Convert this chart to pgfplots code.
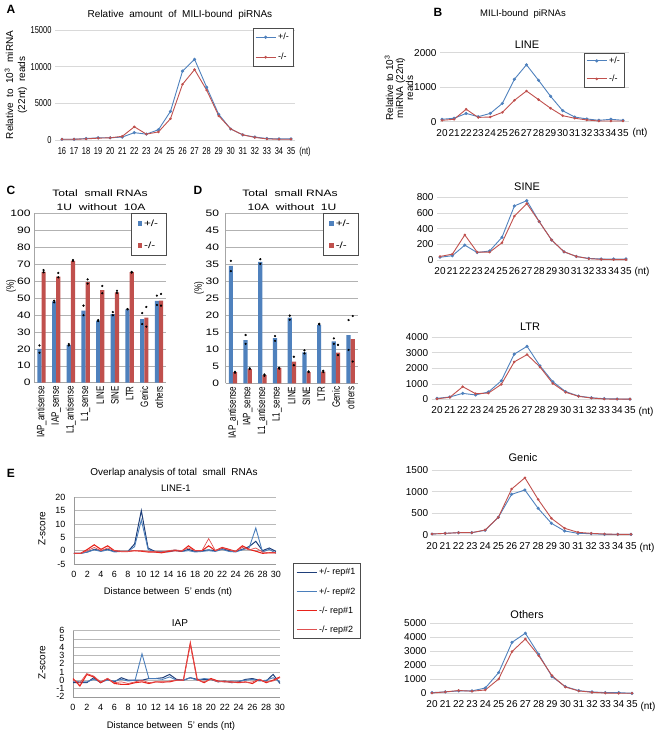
\documentclass[border=0pt]{standalone}
\usepackage{pgfplots}
\pgfplotsset{compat=1.18}
\usepackage{fontspec}
\setmainfont{Liberation Sans}
\newfontfamily\fA{Liberation Sans}[FakeStretch=0.75]
\newfontfamily\fCn{Liberation Sans}[FakeStretch=1.3]
\newfontfamily\fCr{Liberation Sans}[FakeStretch=0.75]
\definecolor{cb}{HTML}{4F81BD}
\definecolor{cr}{HTML}{C0504D}
\definecolor{eA}{HTML}{1F3F7A}
\definecolor{eB}{HTML}{4A7EBB}
\definecolor{eC}{HTML}{E8221A}
\definecolor{eD}{HTML}{E05050}
\definecolor{gridc}{HTML}{D9D9D9}
\pgfplotsset{
  base/.style={scale only axis, clip=false, anchor=south west,
    /pgf/number format/assume math mode=true, /pgf/number format/1000 sep={},
    scaled y ticks=false, major tick length=0pt},
  linechart/.style={base, axis x line*=bottom, axis y line*=left,
    x axis line style={gridc}, y axis line style={draw=none},
    ymajorgrids, grid style={gridc}, xtick={20,...,35},
    tick label style={font=\fontsize{10}{10}\selectfont},
    xticklabel style={yshift=-4pt}},
  pb/.style={cb, line width=0.9pt, mark=*, mark size=1.1pt},
  pr/.style={cr, line width=0.9pt, mark=*, mark size=0.8pt},
  barchart/.style={base, axis x line*=bottom, axis y line*=left,
    axis line style={gray!70}, ymajorgrids, grid style={gray!60},
    xmin=-0.5, xmax=8.5, xtick={0,...,8},
    xticklabels={IAP\_antisense, IAP\_sense, L1\_antisense, L1\_sense, LINE, SINE, LTR, Genic, others},
    xticklabel style={rotate=90, anchor=east, font=\fCr\fontsize{10.7}{10.7}\selectfont},
    yticklabel style={font=\fCn\fontsize{9.3}{9.3}\selectfont},
    legend style={at={(1,1)}, anchor=north east, draw=black!70, fill=white,
      font=\fCn\fontsize{9}{9}\selectfont, inner xsep=6pt, inner ysep=4pt, row sep=10pt},
    legend cell align=left},
  echart/.style={base, axis x line*=bottom, axis y line*=left,
    axis line style={gray!80}, ymajorgrids, grid style={gray!55},
    xmin=0, xmax=30, xtick={0,2,...,30},
    tick label style={font=\fontsize{9}{9}\selectfont},
    xticklabel style={yshift=-4pt}, yticklabel style={xshift=-5pt}},
}
\begin{document}
\begin{tikzpicture}
\useasboundingbox (0pt,0pt) rectangle (657pt,732pt);

% ---------- A ----------
\begin{axis}[linechart, at={(55pt,592pt)}, width=240pt, height=110pt,
  xmin=15.42, xmax=35.33, ymin=0, ymax=15000, xtick={16,...,35}, ytick={0,5000,10000,15000},
  tick label style={font=\fA\fontsize{10}{10}\selectfont},
  legend style={at={(0.992,1.018)}, anchor=north east, draw=black!70, fill=white,
    font=\fontsize{9}{9}\selectfont, inner xsep=2pt, inner ysep=3pt, row sep=8pt},
  legend cell align=left]
\addplot[pb, legend image code/.code={\draw[cb, line width=0.9pt] (0pt,0pt) -- (20pt,0pt); \fill[cb] (10pt,0pt) circle (1.1pt);}] coordinates {(16,100)(17,100)(18,200)(19,300)(20,300)(21,400)(22,1000)(23,800)(24,1400)(25,3900)(26,9400)(27,11000)(28,7200)(29,3500)(30,1500)(31,700)(32,400)(33,200)(34,150)(35,150)};
\addlegendentry{+/-}
\addplot[pr, legend image code/.code={\draw[cr, line width=0.9pt] (0pt,0pt) -- (20pt,0pt); \fill[cr] (10pt,0pt) circle (0.9pt);}] coordinates {(16,100)(17,100)(18,150)(19,250)(20,300)(21,500)(22,1800)(23,800)(24,1100)(25,2900)(26,7600)(27,9600)(28,6800)(29,3300)(30,1500)(31,700)(32,350)(33,150)(34,100)(35,100)};
\addlegendentry{-/-}
\end{axis}

% ---------- B LINE ----------
\begin{axis}[linechart, at={(440pt,610.3pt)}, width=189pt, height=69pt,
  xmin=19.834, xmax=35.497, ymin=0, ymax=2000, ytick={0,1000,2000},
  legend style={at={(0.974,1)}, anchor=north east, draw=black!70, fill=white,
    font=\fontsize{9}{9}\selectfont, inner xsep=2pt, inner ysep=2pt, row sep=6pt},
  legend cell align=left]
\addplot[pb, legend image code/.code={\draw[cb, line width=0.9pt] (0pt,0pt) -- (20pt,0pt); \fill[cb] (10pt,0pt) circle (1.1pt);}] coordinates {(20,70)(21,100)(22,240)(23,145)(24,240)(25,530)(26,1230)(27,1650)(28,1200)(29,735)(30,320)(31,135)(32,80)(33,40)(34,70)(35,40)};
\addlegendentry{+/-}
\addplot[pr, legend image code/.code={\draw[cr, line width=0.9pt] (0pt,0pt) -- (20pt,0pt); \fill[cr] (10pt,0pt) circle (0.8pt);}] coordinates {(20,40)(21,70)(22,360)(23,125)(24,135)(25,270)(26,620)(27,890)(28,640)(29,390)(30,175)(31,100)(32,50)(33,20)(34,20)(35,20)};
\addlegendentry{-/-}
\end{axis}

% ---------- B SINE ----------
\begin{axis}[linechart, at={(437pt,472pt)}, width=191pt, height=62.7pt,
  xmin=19.758, xmax=35.161, ymin=0, ymax=800, ytick={0,200,...,800}]
\addplot[pb] coordinates {(20,35)(21,55)(22,190)(23,95)(24,115)(25,290)(26,690)(27,757)(28,490)(29,255)(30,105)(31,45)(32,20)(33,13)(34,13)(35,13)};
\addplot[pr] coordinates {(20,45)(21,75)(22,320)(23,100)(24,100)(25,220)(26,560)(27,720)(28,490)(29,255)(30,105)(31,45)(32,17)(33,8)(34,5)(35,5)};
\end{axis}

% ---------- B LTR ----------
\begin{axis}[linechart, at={(431.7pt,332.7pt)}, width=200pt, height=62.3pt,
  xmin=19.588, xmax=35.132, ymin=0, ymax=4000, ytick={0,1000,...,4000}]
\addplot[pb] coordinates {(20,60)(21,150)(22,380)(23,280)(24,470)(25,1190)(26,2900)(27,3400)(28,2150)(29,1130)(30,490)(31,210)(32,100)(33,40)(34,20)(35,10)};
\addplot[pr] coordinates {(20,30)(21,130)(22,810)(23,360)(24,400)(25,960)(26,2400)(27,2870)(28,2080)(29,1020)(30,450)(31,190)(32,80)(33,20)(34,10)(35,10)};
\end{axis}

% ---------- B Genic ----------
\begin{axis}[linechart, at={(431.7pt,197pt)}, width=200pt, height=65pt,
  xmin=19.977, xmax=35.05, ymin=0, ymax=1500, ytick={0,500,1000,1500}]
\addplot[pb] coordinates {(20,23)(21,38)(22,54)(23,54)(24,108)(25,408)(26,938)(27,1038)(28,615)(29,270)(30,92)(31,38)(32,30)(33,15)(34,15)(35,15)};
\addplot[pr] coordinates {(20,23)(21,38)(22,54)(23,54)(24,115)(25,408)(26,1060)(27,1320)(28,820)(29,385)(30,154)(31,62)(32,38)(33,23)(34,15)(35,15)};
\end{axis}

% ---------- B Others ----------
\begin{axis}[linechart, at={(430pt,38.7pt)}, width=203pt, height=70pt,
  xmin=19.85, xmax=35.075, ymin=0, ymax=5000, ytick={0,1000,...,5000}]
\addplot[pb] coordinates {(20,50)(21,100)(22,170)(23,170)(24,380)(25,1480)(26,3640)(27,4290)(28,2790)(29,1190)(30,480)(31,190)(32,100)(33,50)(34,50)(35,0)};
\addplot[pr] coordinates {(20,20)(21,100)(22,200)(23,150)(24,240)(25,1020)(26,2980)(27,3880)(28,2690)(29,1260)(30,450)(31,170)(32,70)(33,20)(34,0)(35,0)};
\end{axis}

% ---------- C ----------
\begin{axis}[barchart, at={(34.2pt,349.3pt)}, width=132.1pt, height=169.4pt,
  ymin=0, ymax=100, ytick={0,10,...,100}]
\addplot[ybar, bar width=4.2pt, bar shift=-2.1pt, fill=cb, draw=none,
  legend image code/.code={\fill[cb] (0pt,-2.2pt) rectangle (4.5pt,2.2pt);}]
  coordinates {(0,20)(1,48)(2,22.4)(3,42.5)(4,36.6)(5,40.5)(6,43.3)(7,37.6)(8,48.3)};
\addlegendentry{+/-}
\addplot[ybar, bar width=4.2pt, bar shift=2.1pt, fill=cr, draw=none,
  legend image code/.code={\fill[cr] (0pt,-2.2pt) rectangle (4.5pt,2.2pt);}]
  coordinates {(0,65.4)(1,62.6)(2,71.9)(3,59.4)(4,54.7)(5,53.3)(6,65.2)(7,38.4)(8,48.4)};
\addlegendentry{-/-}
\addplot[only marks, mark=*, mark size=0.9pt, black, forget plot] coordinates {
(-0.14,22)(-0.14,17.7)(0.86,48.4)(0.86,47.4)(1.86,22.8)(1.86,22)(2.86,45.5)(2.86,39.8)(3.86,37)(3.86,36.4)(4.86,41.7)(4.86,39.8)(5.86,43.5)(5.86,43.3)(6.86,41.1)(6.86,34.6)(7.86,51.4)(7.86,45.9)};
\addplot[only marks, mark=*, mark size=0.9pt, black, forget plot] coordinates {
(0.14,66.5)(0.14,65.2)(1.14,64.8)(1.14,62.2)(2.14,72.4)(2.14,71.9)(3.14,61)(3.14,58.5)(4.14,57.1)(4.14,52.8)(5.14,54.3)(5.14,53)(6.14,65.4)(6.14,65)(7.14,44.7)(7.14,33.1)(8.14,52.4)(8.14,45.5)};
\end{axis}

% ---------- D ----------
\begin{axis}[barchart, at={(225.6pt,348.7pt)}, width=132.4pt, height=170pt,
  ymin=0, ymax=50, ytick={0,5,...,50}, yticklabel style={xshift=-3pt}]
\addplot[ybar, bar width=4.2pt, bar shift=-2.1pt, fill=cb, draw=none,
  legend image code/.code={\fill[cb] (0pt,-2.2pt) rectangle (4.5pt,2.2pt);}]
  coordinates {(0,34.5)(1,12.7)(2,35.7)(3,13.3)(4,19.3)(5,9.1)(6,17.2)(7,12.3)(8,14.2)};
\addlegendentry{+/-}
\addplot[ybar, bar width=4.2pt, bar shift=2.1pt, fill=cr, draw=none,
  legend image code/.code={\fill[cr] (0pt,-2.2pt) rectangle (4.5pt,2.2pt);}]
  coordinates {(0,3.3)(1,4.2)(2,2.4)(3,4.5)(4,6.4)(5,3.3)(6,3.4)(7,9.0)(8,13.0)};
\addlegendentry{-/-}
\addplot[only marks, mark=*, mark size=0.9pt, black, forget plot] coordinates {
(-0.14,36)(-0.14,33)(0.86,14.2)(0.86,11.6)(1.86,36.5)(1.86,35.1)(2.86,13.9)(2.86,12.5)(3.86,19.9)(3.86,18.7)(4.86,9.7)(4.86,8.8)(5.86,17.5)(5.86,17.3)(6.86,13.2)(6.86,11.6)(7.86,18.6)(7.86,9.8)};
\addplot[only marks, mark=*, mark size=0.9pt, black, forget plot] coordinates {
(0.14,3.4)(0.14,3.1)(1.14,4.4)(1.14,4.2)(2.14,2.6)(2.14,2.2)(3.14,4.6)(3.14,4.3)(4.14,7.8)(4.14,5.3)(5.14,3.5)(5.14,3.3)(6.14,3.7)(6.14,3.3)(7.14,11.3)(7.14,8.3)(8.14,19.8)(8.14,6.4)};
\end{axis}

% ---------- E LINE-1 ----------
\begin{axis}[echart, at={(74pt,168pt)}, width=202pt, height=66.7pt,
  ymin=-5, ymax=20, ytick={-5,0,...,20},
  legend style={at={(1.083,0.011)}, anchor=north west, draw=black!70, fill=white,
    font=\fontsize{9}{9}\selectfont, inner xsep=3pt, inner ysep=3pt, row sep=7pt},
  legend cell align=left,
  legend image code/.code={\draw[#1] (0pt,0pt) -- (20pt,0pt);}]
\addplot[eA, line width=1pt] coordinates {(0,-1)(1,-1)(2,-0.5)(3,0.5)(4,0)(5,0.5)(6,-0.3)(7,-0.3)(8,-0.3)(9,2.5)(10,15)(11,1)(12,-0.3)(13,-0.5)(14,-0.3)(15,0.2)(16,-0.3)(17,0.5)(18,-0.3)(19,0)(20,0.3)(21,0)(22,0.8)(23,0)(24,-0.3)(25,0.5)(26,1.5)(27,3.5)(28,0)(29,1)(30,-0.3)};
\addlegendentry{+/- rep\#1}
\addplot[eB, line width=0.9pt] coordinates {(0,-1)(1,-1)(2,-0.5)(3,0.3)(4,-0.3)(5,0.3)(6,-0.5)(7,-0.3)(8,-0.3)(9,1.5)(10,11.5)(11,0.5)(12,-0.5)(13,-0.3)(14,-0.5)(15,0)(16,-0.3)(17,0)(18,-0.5)(19,-0.3)(20,0)(21,-0.3)(22,0.5)(23,-0.3)(24,-0.5)(25,0.3)(26,1)(27,8.5)(28,-0.5)(29,0.5)(30,-1)};
\addlegendentry{+/- rep\#2}
\addplot[eC, line width=1.1pt] coordinates {(0,-1)(1,-1)(2,0.5)(3,2.2)(4,0.5)(5,1.8)(6,0)(7,-0.3)(8,-0.3)(9,0)(10,-0.2)(11,-0.5)(12,-0.5)(13,-0.8)(14,-0.3)(15,0)(16,-0.2)(17,1.8)(18,0)(19,0)(20,1.8)(21,0)(22,1.2)(23,0.5)(24,-0.3)(25,1.8)(26,0.5)(27,-0.2)(28,-1)(29,-0.8)(30,-0.8)};
\addlegendentry{-/- rep\#1}
\addplot[eD, line width=0.7pt] coordinates {(0,-1)(1,-1)(2,0)(3,1.2)(4,0)(5,1)(6,0)(7,-0.3)(8,-0.3)(9,0)(10,0)(11,-0.3)(12,-0.3)(13,-0.5)(14,0)(15,0.3)(16,0)(17,1)(18,0)(19,0)(20,4.5)(21,0)(22,1)(23,0.3)(24,-0.3)(25,1.2)(26,0.3)(27,1)(28,-0.5)(29,-0.8)(30,-0.8)};
\addlegendentry{-/- rep\#2}
\end{axis}

% ---------- E IAP ----------
\begin{axis}[echart, at={(73pt,35.3pt)}, width=207pt, height=66pt,
  ymin=-2, ymax=6, ytick={-2,-1,...,6}]
\addplot[eA, line width=1pt] coordinates {(0,-0.3)(1,-0.3)(2,-0.3)(3,0.3)(4,-0.3)(5,0.1)(6,-0.2)(7,0.3)(8,0)(9,0)(10,0)(11,0.2)(12,0.2)(13,0.3)(14,0.7)(15,0.1)(16,0)(17,0.3)(18,0.1)(19,0.1)(20,0.1)(21,-0.2)(22,-0.1)(23,-0.3)(24,-0.2)(25,0.1)(26,0.2)(27,0)(28,-0.1)(29,0.7)(30,-0.4)};
\addplot[eB, line width=0.9pt] coordinates {(0,-0.1)(1,-0.2)(2,-0.2)(3,0.1)(4,-0.2)(5,0)(6,-0.1)(7,0.1)(8,-0.1)(9,0)(10,3.2)(11,0.2)(12,0.2)(13,0.1)(14,0.4)(15,0)(16,0)(17,0.3)(18,0)(19,0.2)(20,0.1)(21,-0.1)(22,-0.2)(23,-0.1)(24,-0.1)(25,0)(26,0.1)(27,-0.1)(28,0)(29,0.3)(30,-0.2)};
\addplot[eC, line width=1.1pt] coordinates {(0,0.2)(1,-0.7)(2,0.7)(3,0.4)(4,-0.3)(5,0.2)(6,-0.4)(7,-0.5)(8,-0.5)(9,-0.3)(10,-0.2)(11,-0.4)(12,-0.2)(13,-0.2)(14,-0.2)(15,0)(16,0)(17,4.5)(18,0.1)(19,-0.3)(20,0.2)(21,-0.1)(22,-0.2)(23,-0.2)(24,-0.3)(25,-0.2)(26,-0.4)(27,0.1)(28,-0.3)(29,0)(30,0.4)};
\addplot[eD, line width=0.7pt] coordinates {(0,0)(1,-0.3)(2,0.8)(3,0.5)(4,-0.2)(5,0.2)(6,-0.3)(7,-0.2)(8,-0.4)(9,-0.2)(10,0)(11,-0.3)(12,-0.2)(13,-0.3)(14,-0.1)(15,0)(16,0)(17,4.3)(18,0)(19,-0.2)(20,0.1)(21,-0.2)(22,-0.1)(23,-0.3)(24,-0.2)(25,-0.3)(26,-0.2)(27,0.1)(28,-0.2)(29,-0.1)(30,0.3)};
\end{axis}

% ---------- texts ----------
\begin{scope}[every node/.style={inner sep=0pt}]
\node[font=\bfseries\fontsize{12}{12}\selectfont] at (11pt,723pt) {A};
\node[font=\fontsize{10}{10}\selectfont] at (180pt,717pt) {Relative\ \ amount\ \ of\ \ MILI-bound\ \ piRNAs};
\node[font=\fontsize{10}{12}\selectfont, rotate=90, align=center] at (16pt,647pt) {Relative\ \ to\ \ 10\textsuperscript{3}\ \ miRNA\\(22nt)\ \ reads};
\node[font=\fA\fontsize{10}{10}\selectfont] at (305pt,580pt) {(nt)};

\node[font=\bfseries\fontsize{12}{12}\selectfont] at (438pt,720pt) {B};
\node[font=\fontsize{9.5}{10}\selectfont] at (523pt,718pt) {MILI-bound\ \ piRNAs};
\node[font=\fontsize{10}{10}\selectfont, rotate=90, align=center] at (399pt,644pt) {Relative to 10\textsuperscript{3}\\miRNA (22nt)\\reads};
\node[font=\fontsize{11}{11}\selectfont] at (527pt,687pt) {LINE};
\node[font=\fontsize{11}{11}\selectfont] at (527pt,545pt) {SINE};
\node[font=\fontsize{11}{11}\selectfont] at (530pt,405pt) {LTR};
\node[font=\fontsize{11}{11}\selectfont] at (523pt,274pt) {Genic};
\node[font=\fontsize{11}{11}\selectfont] at (527pt,117pt) {Others};
\node[font=\fontsize{10}{10}\selectfont] at (640pt,599pt) {(nt)};
\node[font=\fontsize{10}{10}\selectfont] at (642pt,460pt) {(nt)};
\node[font=\fontsize{10}{10}\selectfont] at (646pt,320pt) {(nt)};
\node[font=\fontsize{10}{10}\selectfont] at (647pt,184pt) {(nt)};
\node[font=\fontsize{10}{10}\selectfont] at (648pt,25pt) {(nt)};

\node[font=\bfseries\fontsize{12}{12}\selectfont] at (11pt,542pt) {C};
\node[font=\fCn\fontsize{9.3}{9.3}\selectfont] at (100pt,539pt) {Total\ \ small\ RNAs};
\node[font=\fCn\fontsize{9.3}{9.3}\selectfont] at (101pt,525pt) {1U\ \ without\ \ 10A};
\node[font=\fCr\fontsize{10.7}{10.7}\selectfont, rotate=90] at (11pt,446pt) {(\%)};

\node[font=\bfseries\fontsize{12}{12}\selectfont] at (198pt,542pt) {D};
\node[font=\fCn\fontsize{9.3}{9.3}\selectfont] at (290pt,539pt) {Total\ \ small\ RNAs};
\node[font=\fCn\fontsize{9.3}{9.3}\selectfont] at (292pt,525pt) {10A\ \ without\ \ 1U};
\node[font=\fCr\fontsize{10.7}{10.7}\selectfont, rotate=90] at (199pt,444pt) {(\%)};

\node[font=\bfseries\fontsize{12}{12}\selectfont] at (11pt,259pt) {E};
\node[font=\fontsize{10}{10}\selectfont] at (174pt,259pt) {Overlap analysis of total\ \ small\ \ RNAs};
\node[font=\fontsize{9.5}{10}\selectfont] at (176pt,244pt) {LINE-1};
\node[font=\fontsize{9.5}{10}\selectfont] at (168pt,140pt) {Distance between\ \ 5' ends (nt)};
\node[font=\fontsize{10}{10}\selectfont, rotate=90] at (42pt,203pt) {Z-score};
\node[font=\fontsize{10}{10}\selectfont] at (180pt,109pt) {IAP};
\node[font=\fontsize{9.5}{10}\selectfont] at (171pt,6pt) {Distance between\ \ 5' ends (nt)};
\node[font=\fontsize{10}{10}\selectfont, rotate=90] at (42pt,69pt) {Z-score};
\end{scope}
\end{tikzpicture}
\end{document}
